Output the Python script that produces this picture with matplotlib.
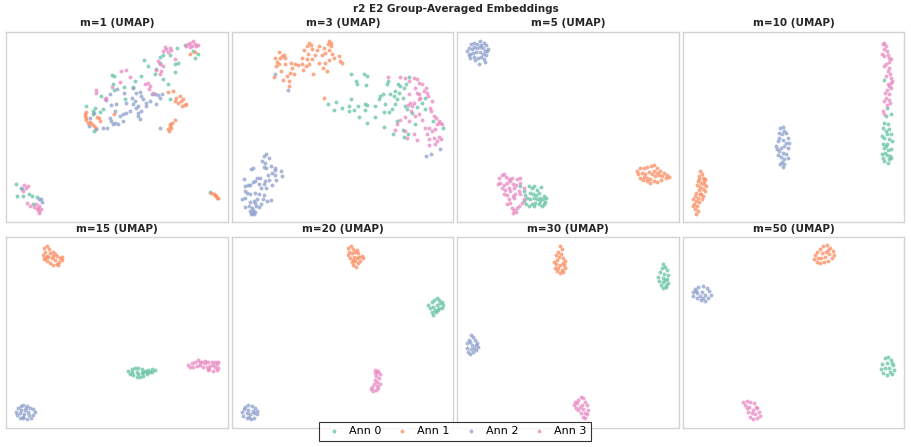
import numpy as np
import matplotlib.pyplot as plt

# Set2 colours for the four annotators
COLORS = ["#66c2a5", "#fc8d62", "#8da0cb", "#e78ac3"]
LABELS = ["Ann 0", "Ann 1", "Ann 2", "Ann 3"]
TITLE = "r2 E2 Group-Averaged Embeddings"
PANELS = ["m=1", "m=3", "m=5", "m=10", "m=15", "m=20", "m=30", "m=50"]

# ---- m=1 ----
m1_ann0 = [(535,42),(512,50),(560,60),(565,80),(575,70),(462,78),(470,72),(490,72),(460,95),(505,98),
           (515,96),(413,88),(424,105),(445,128),(450,115),(505,124),(470,145),(485,158),(490,205),(318,132),
           (322,135),(320,160),(352,168),(322,178),(380,168),(405,136),(385,150),(355,205),(285,195),(240,226),
           (265,232),(260,240),(290,235),(282,242),(260,250),(262,300),(30,458),(48,474),(32,495),(52,495),
           (68,490),(78,495),(80,520),(92,498),(612,484)]
m1_ann1 = [(550,68),(566,62),(486,182),(500,180),(510,200),(520,195),(505,210),(515,215),(525,210),(530,205),
           (528,225),(535,222),(540,220),(240,242),(235,248),(238,260),(240,268),(245,275),(250,272),(235,255),
           (272,258),(278,262),(280,270),(262,285),(268,290),(258,280),(322,250),(505,268),(490,280),(495,290),
           (485,295),(488,300),(492,285),(498,275),(615,485),(622,490),(628,495),(632,500),(625,492),(635,502)]
m1_ann2 = [(312,188),(332,175),(353,186),(380,170),(390,185),(400,183),(378,200),(404,196),(410,205),(385,210),
           (380,220),(396,225),(420,215),(430,210),(418,225),(405,240),(395,245),(388,230),(370,240),(360,245),
           (350,250),(340,255),(330,220),(315,222),(325,240),(310,260),(315,270),(325,275),(335,278),(320,280),
           (302,292),(290,290),(270,295),(248,286),(250,260),(262,245),(400,265),(436,188),(445,190),(455,192),
           (462,200),(468,188),(448,220),(462,292),(350,270),(395,255),(300,208),(360,215),
           (45,472),(105,503),(108,512),(100,505)]
m1_ann3 = [(545,40),(552,35),(558,45),(565,38),(570,45),(550,48),(560,30),(575,42),(540,45),(475,48),
           (480,55),(490,50),(495,58),(470,60),(485,62),(455,90),(460,100),(470,105),(448,118),(460,130),
           (465,120),(505,85),(345,120),(360,118),(372,138),(340,152),(318,168),(268,178),(270,185),(296,205),
           (300,200),(416,160),(425,155),(432,165),(428,175),(440,185),(55,462),(60,470),(65,465),(50,480),
           (62,515),(72,525),(90,520),(95,530),(100,525),(92,535),(100,540),(85,528),(105,535),(98,545)]

# ---- m=3 ----
m3_ann0 = [(358,128),(395,128),(405,134),(372,150),(375,160),(403,163),(287,218),(312,214),(305,238),(330,230),
           (352,240),(350,225),(358,204),(365,238),(378,226),(398,218),(405,222),(398,238),(382,258),(405,277),
           (428,258),(430,226),(440,205),(445,195),(452,188),(460,218),(455,242),(470,242),(480,235),(473,188),
           (485,195),(490,180),(498,160),(503,165),(500,185),(495,205),(512,200),(518,225),(525,235),(515,170),
           (522,158),(530,138),(466,160),(468,150),(540,245),(555,228),(570,215),(578,235),(580,200),(604,270),
           (632,290),(548,278),(512,298),(515,318),(482,310),(456,288),(495,270),(528,310),(490,220)]
m3_ann1 = [(142,62),(150,75),(145,80),(155,72),(160,80),(130,80),(135,92),(140,100),(132,105),(125,138),
           (152,148),(165,135),(172,150),(170,165),(175,125),(185,130),(180,110),(178,95),(188,100),(198,103),
           (210,100),(212,118),(222,105),(230,100),(225,85),(228,70),(215,58),(225,45),(232,35),(238,42),
           (240,55),(250,72),(255,58),(262,45),(270,72),(280,65),(275,50),(290,30),(288,40),(298,35),
           (296,45),(292,58),(300,68),(305,80),(290,88),(280,95),(272,112),(285,120),(260,95),(242,128),
           (322,75),(325,90),(330,95),(240,85),(210,80),(160,100),(148,120),(275,200)]
m3_ann2 = [(130,128),(168,178),(582,374),(598,368),(625,354),
           (95,375),(103,370),(110,380),(90,390),(100,395),(95,408),(103,410),(118,404),(128,418),(148,420),
           (150,435),(128,432),(132,448),(120,462),(112,448),(100,450),(95,460),(102,472),(88,470),(82,460),
           (75,440),(68,450),(62,452),(55,462),(48,462),(40,465),(35,445),(58,415),(62,410),(40,480),
           (30,505),(40,500),(45,485),(55,490),(70,485),(80,490),(95,492),(92,505),(105,510),(118,508),
           (75,505),(70,515),(65,510),(55,512),(50,525),(40,528),(60,530),(72,525),(82,528),(88,520),
           (55,540),(60,545),(65,548),(58,548),(68,542),(62,538),(85,440),(108,432),(120,425),(130,410)]
m3_ann3 = [(468,138),(505,138),(520,140),(530,150),(545,140),(555,145),(560,155),(570,160),(548,170),(555,185),
           (560,190),(575,180),(583,170),(585,185),(588,195),(565,202),(545,215),(535,215),(528,222),(538,240),
           (548,255),(560,250),(570,268),(600,210),(595,230),(598,240),(605,255),(612,262),(620,270),(625,275),
           (630,280),(615,280),(608,295),(600,300),(590,290),(585,310),(592,325),(605,320),(615,330),(622,318),
           (628,325),(610,338),(590,342),(555,328),(545,310),(530,270),(520,258),(505,268),(495,278),(490,298),
           (520,300),(525,320),(580,292),(540,225),(560,205),(530,190)]

# ---- m=5 ----
m5_ann0 = [(190,465),(200,480),(215,465),(225,470),(240,478),(252,468),(232,465),(218,485),(228,490),(238,492),
           (248,500),(258,505),(265,512),(262,520),(255,525),(245,520),(235,515),(225,520),(215,525),(208,520),
           (200,510),(210,500),(220,505),(240,505),(250,510),(230,525),(268,500),(260,495),(205,492),(230,500),
           (245,485)]
m5_ann1 = [(540,420),(550,412),(560,410),(570,408),(582,405),(592,402),(600,410),(610,420),(620,425),(630,432),
           (635,438),(625,442),(612,448),(600,452),(590,450),(580,455),(570,450),(558,448),(548,440),(542,430),
           (555,425),(565,430),(575,422),(585,430),(595,435),(605,432),(615,435),(560,438),(570,440),(590,420),
           (600,425),(580,445)]
m5_ann2 = [(42,40),(50,35),(60,38),(70,30),(80,35),(88,42),(92,55),(85,60),(78,52),(70,48),
           (60,50),(52,48),(45,55),(35,50),(30,60),(38,68),(48,65),(56,62),(68,62),(78,68),
           (88,72),(82,85),(72,78),(62,80),(50,78),(40,80),(35,72),(65,100),(84,92),(55,88),
           (72,42),(90,60)]
m5_ann3 = [(125,440),(135,432),(140,428),(148,438),(155,445),(165,440),(180,445),(188,455),(178,462),(168,458),
           (160,450),(150,455),(140,462),(130,455),(122,460),(135,470),(145,478),(155,470),(160,480),(150,492),
           (142,488),(168,495),(175,490),(185,480),(160,515),(155,505),(150,520),(165,530),(172,538),(180,532),
           (168,545),(178,542),(185,525),(195,515),(200,505),(172,500),(190,490),(200,470),(190,440),(170,470)]

# ---- m=10 ----
m10_ann0 = [(605,148),(612,230),(625,248),(610,255),(605,275),(615,280),(600,292),(610,300),(620,295),(625,310),
            (612,310),(598,315),(605,322),(618,325),(628,330),(612,338),(600,340),(605,352),(615,358),(625,355),
            (608,365),(598,370),(612,372),(622,375),(618,385),(605,390),(615,395),(625,380),(600,380),(610,345)]
m10_ann1 = [(52,420),(58,428),(48,435),(62,440),(68,445),(45,450),(55,455),(65,460),(70,465),(42,462),
            (52,468),(60,475),(68,480),(48,478),(40,485),(55,488),(62,495),(38,495),(45,500),(32,505),
            (40,510),(48,512),(35,518),(42,525),(30,525),(38,535),(45,540),(40,548),(52,490),(58,505),
            (65,450),(50,445)]
m10_ann2 = [(292,290),(300,288),(305,300),(298,310),(310,305),(315,320),(290,320),(285,330),(300,328),(310,335),
            (280,345),(295,350),(305,345),(315,350),(288,360),(300,365),(310,368),(285,372),(295,378),(305,385),
            (315,380),(298,392),(305,400),(300,408),(292,400),(282,355),(318,335),(290,305)]
m10_ann3 = [(600,40),(605,35),(610,45),(603,55),(612,60),(598,70),(605,75),(615,72),(620,80),(625,85),
            (618,92),(610,100),(605,105),(620,110),(615,120),(622,130),(610,135),(625,142),(628,150),(615,160),
            (620,165),(625,172),(612,178),(608,185),(618,190),(610,200),(605,210),(612,222),(600,240),(605,250),
            (622,215),(618,208),(625,155)]

# ---- m=15 ----
m15_ann0 = [(385,438),(395,432),(405,430),(415,428),(425,432),(435,438),(445,435),(455,432),(465,435),(450,442),
            (440,448),(430,452),(420,455),(410,455),(400,450),(390,448),(395,442),(410,440),(425,445),(440,440),
            (455,440),(415,448),(430,440)]
m15_ann1 = [(132,68),(140,65),(148,72),(135,80),(128,90),(140,92),(150,85),(158,80),(165,88),(172,92),
            (180,98),(185,105),(178,112),(170,118),(160,120),(150,115),(142,108),(135,100),(155,100),(165,105),
            (175,120),(145,95),(160,92),(185,95),(132,102)]
m15_ann2 = [(55,548),(62,542),(70,540),(80,542),(90,548),(98,552),(105,560),(100,570),(92,578),(80,582),
            (70,580),(60,578),(52,570),(48,562),(62,555),(75,555),(85,560),(88,570),(72,568),(60,565),
            (78,548),(68,575)]
m15_ann3 = [(565,420),(575,415),(585,410),(595,405),(605,410),(615,408),(625,410),(635,410),(645,412),(652,418),
            (655,428),(650,435),(640,438),(628,432),(620,425),(610,425),(600,420),(590,422),(580,425),(570,425),
            (630,422),(645,425),(615,415),(600,412),(640,420),(655,410),(625,435)]

# ---- m=20 ----
m20_ann0 = [(1310,220),(1318,225),(1325,232),(1330,240),(1325,250),(1315,255),(1308,262),(1300,270),(1295,262),
            (1290,250),(1285,240),(1295,232),(1302,225),(1312,240),(1318,248),(1300,245),(1305,255),(1320,235)]
m20_ann1 = [(1045,68),(1052,65),(1058,72),(1048,80),(1055,85),(1065,80),(1075,85),(1085,92),(1088,100),
            (1080,108),(1075,115),(1068,125),(1060,120),(1055,112),(1050,100),(1045,90),(1062,95),(1072,100),
            (1065,108),(1078,95),(1058,105),(1070,75)]
m20_ann2 = [(735,545),(745,540),(755,542),(765,548),(772,558),(770,568),(762,578),(752,582),(740,580),
            (730,572),(725,562),(732,552),(745,555),(758,558),(750,568),(740,565),(762,565),(748,575)]
m20_ann3 = [(1125,435),(1135,438),(1140,448),(1138,460),(1132,470),(1140,478),(1135,488),(1128,495),(1120,498),
            (1112,492),(1115,485),(1122,478),(1125,465),(1128,452),(1130,442),(1132,482),(1125,445)]

# ---- m=30 ----
m30_ann0 = [(638,118),(645,125),(650,135),(655,150),(652,162),(655,175),(648,185),(640,190),(632,180),
            (628,168),(625,155),(630,140),(635,128),(642,148),(645,165),(638,172),(640,158),(648,180)]
m30_ann1 = [(330,65),(335,72),(325,80),(318,90),(328,95),(340,98),(345,108),(338,115),(330,120),(318,118),
            (312,110),(320,105),(325,128),(335,135),(345,130),(340,140),(330,145),(322,138),(332,88),(342,120),
            (315,128)]
m30_ann2 = [(62,330),(70,335),(75,345),(82,355),(85,365),(78,375),(70,382),(60,388),(55,380),(50,370),
            (52,355),(58,345),(65,360),(72,368),(62,372),(60,352),(78,360)]
m30_ann3 = [(392,515),(400,520),(405,530),(410,540),(415,555),(412,568),(405,578),(398,575),(392,565),(385,555),
            (378,548),(372,540),(375,530),(385,525),(395,540),(400,552),(390,545),(405,565),(382,535)]

# ---- m=50 ----
m50_ann0 = [(1305,400),(1315,395),(1322,405),(1330,420),(1332,435),(1325,448),(1312,450),(1300,445),
            (1292,432),(1295,418),(1310,415),(1318,428),(1305,430),(1320,440),(1325,415)]
m50_ann1 = [(1110,72),(1120,65),(1130,62),(1140,68),(1148,78),(1152,90),(1145,100),(1135,108),(1122,112),
            (1110,115),(1100,112),(1092,102),(1095,90),(1102,80),(1115,85),(1128,80),(1138,88),(1125,95),
            (1112,100),(1135,75),(1105,100)]
m50_ann2 = [(735,192),(745,185),(758,182),(770,188),(778,198),(782,210),(775,220),(765,228),(752,225),
            (740,220),(730,212),(728,200),(742,205),(755,200),(765,210),(750,212),(760,218),(738,198)]
m50_ann3 = [(880,530),(890,528),(900,530),(912,535),(920,548),(928,562),(930,572),(922,580),(910,582),
            (900,575),(895,562),(890,550),(885,540),(898,545),(910,555),(915,568),(905,565),(918,545)]

embeddings = {
    "m=1": [m1_ann0, m1_ann1, m1_ann2, m1_ann3],
    "m=3": [m3_ann0, m3_ann1, m3_ann2, m3_ann3],
    "m=5": [m5_ann0, m5_ann1, m5_ann2, m5_ann3],
    "m=10": [m10_ann0, m10_ann1, m10_ann2, m10_ann3],
    "m=15": [m15_ann0, m15_ann1, m15_ann2, m15_ann3],
    "m=20": [m20_ann0, m20_ann1, m20_ann2, m20_ann3],
    "m=30": [m30_ann0, m30_ann1, m30_ann2, m30_ann3],
    "m=50": [m50_ann0, m50_ann1, m50_ann2, m50_ann3],
}
# view window of each embedding (xmin, xmax, ymax, ymin)
limits = {
    "m=1": (1, 664, 574, 2), "m=3": (1, 664, 574, 2),
    "m=5": (1, 664, 574, 2), "m=10": (1, 664, 574, 2),
    "m=15": (19, 683, 609, 38), "m=20": (697, 1360, 609, 38),
    "m=30": (22, 686, 609, 38), "m=50": (699, 1363, 609, 38),
}

fig = plt.figure(figsize=(9.11, 4.47), dpi=100)
lefts = [0.0071, 0.2550, 0.5020, 0.7497]
bottoms = [0.5027, 0.0425]
W, H = 0.2428, 0.4262

for i, name in enumerate(PANELS):
    ax = fig.add_axes([lefts[i % 4], bottoms[i // 4], W, H])
    for k in range(4):
        pts = np.array(embeddings[name][k])
        ax.scatter(pts[:, 0], pts[:, 1], s=8, c=COLORS[k], alpha=0.75,
                   linewidths=0, label=LABELS[k])
    x0, x1, y0, y1 = limits[name]
    ax.set_xlim(x0, x1)
    ax.set_ylim(y0, y1)
    ax.set_xticks([])
    ax.set_yticks([])
    for sp in ax.spines.values():
        sp.set_color("#d3d3d3")
        sp.set_linewidth(1.0)
    ax.set_title(name + " (UMAP)", fontsize=7.5, fontweight="bold",
                 color="#262626", pad=4)
    if i == 0:
        handles, labels = ax.get_legend_handles_labels()

fig.suptitle(TITLE, fontsize=7.5, fontweight="bold", color="#262626", y=0.99)
leg = fig.legend(handles, labels, loc="center", bbox_to_anchor=(0.4995, 0.035),
                 ncol=4, fontsize=8, frameon=True, fancybox=False,
                 edgecolor="black", handlelength=1.9, handletextpad=0.4,
                 columnspacing=0.95, borderpad=0.4)
leg.get_frame().set_linewidth(0.8)

fig.savefig("out.png", dpi=100)
